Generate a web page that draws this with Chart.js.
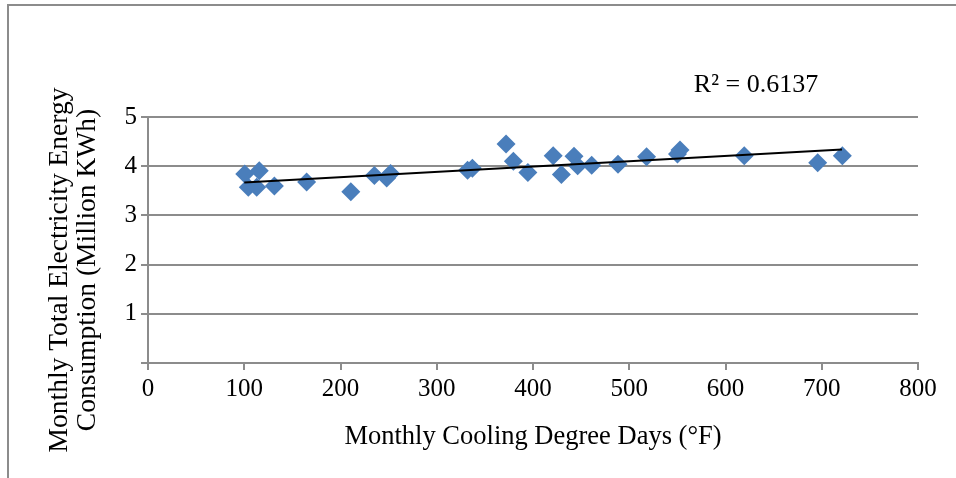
<!DOCTYPE html>
<html>
<head>
<meta charset="utf-8">
<script src="https://cdn.jsdelivr.net/npm/chart.js@4/dist/chart.umd.min.js"></script>
<style>
  html, body { margin: 0; padding: 0; background: #fff; }
  #wrap { width: 956px; height: 478px; }
</style>
</head>
<body>
<div id="wrap"><canvas id="chart" width="956" height="478"></canvas></div>
<script>
// monthly cooling degree days (°F)
const cdd = [100.5, 115.6, 104.2, 112.9, 131.3, 164.8, 210.7, 235.2, 248, 252,
             332, 337, 372, 379.6, 394.7, 421, 429.5, 442.6, 446.4, 461,
             488.3, 518, 550.1, 552.7, 619.5, 695.8, 721.4];
// monthly total electricity consumption (million kWh)
const kwh = [3.84, 3.91, 3.57, 3.57, 3.60, 3.68, 3.48, 3.81, 3.76, 3.85,
             3.92, 3.96, 4.45, 4.10, 3.87, 4.21, 3.83, 4.20, 4.01, 4.02,
             4.04, 4.19, 4.25, 4.33, 4.21, 4.07, 4.21];
// linear trendline ends
const trendX = [100, 721];
const trendY = [3.67, 4.34];
const r2Label = 'R² = 0.6137';

const xTicks = [0, 100, 200, 300, 400, 500, 600, 700, 800];
const yTicks = [0, 1, 2, 3, 4, 5];
const yTitle = ['Monthly Total Electricity Energy', 'Consumption (Million KWh)'];

const gray = '#8c8c8c';
const serif = "'Liberation Serif', 'Times New Roman', serif";

Chart.defaults.font.family = serif;
Chart.defaults.font.size = 25;
Chart.defaults.color = '#000';

// outer frame (top + left edge), rotated y title and the R² label
const framePlugin = {
    id: 'frame',
    beforeDraw(chart) {
        const ctx = chart.ctx;
        ctx.save();
        ctx.strokeStyle = gray;
        ctx.lineWidth = 2;
        ctx.beginPath();
        ctx.moveTo(956, 5);
        ctx.lineTo(8, 5);
        ctx.lineTo(8, 478);
        ctx.stroke();
        ctx.restore();
    },
    afterDraw(chart) {
        const ctx = chart.ctx;
        ctx.save();
        ctx.font = '26px ' + serif;
        ctx.fillStyle = '#000';
        ctx.textAlign = 'center';
        ctx.textBaseline = 'middle';
        ctx.fillText(r2Label, 756, 85);

        // y axis title sits a bit below the plot centre in the original
        ctx.font = '27.5px ' + serif;
        ctx.translate(60, 270);
        ctx.rotate(-Math.PI / 2);
        yTitle.forEach((line, i) => ctx.fillText(line, 0, i * 28));
        ctx.restore();
    }
};

let points = cdd.map((v, i) => ({ x: v, y: kwh[i] }));
let trend = trendX.map((v, i) => ({ x: v, y: trendY[i] }));

new Chart(document.getElementById('chart'), {
    type: 'scatter',
    data: {
        datasets: [{
            label: 'Consumption',
            data: points,
            pointStyle: 'rectRot',
            pointRadius: 9.5,
            pointHoverRadius: 9.5,
            backgroundColor: '#4a7ebb',
            borderColor: '#4a7ebb',
            borderWidth: 0,
            order: 2,
        }, {
            label: 'Linear',
            data: trend,
            showLine: true,
            pointRadius: 0,
            borderColor: '#000',
            borderWidth: 2,
            order: 1,
        }]
    },
    options: {
        responsive: false,
        animation: false,
        events: [],
        layout: {
            padding: { left: 0, right: 38, top: 117, bottom: 0 }
        },
        plugins: {
            legend: { display: false },
            tooltip: { enabled: false },
        },
        scales: {
            x: {
                type: 'linear',
                min: 0,
                max: 800,
                afterBuildTicks: (s) => { s.ticks = xTicks.map(v => ({ value: v })); },
                afterFit: (s) => { s.height = 115; },
                grid: {
                    drawOnChartArea: false,
                    drawTicks: true,
                    tickLength: 7,
                    color: gray,
                    lineWidth: 2,
                },
                border: { display: true, color: gray, width: 2 },
                ticks: { padding: 4, color: '#000', font: { size: 25 } },
                title: {
                    display: true,
                    text: 'Monthly Cooling Degree Days (°F)',
                    font: { size: 26.5, lineHeight: 1.2 },
                    padding: { top: 4, bottom: 25 },
                },
            },
            y: {
                type: 'linear',
                min: 0,
                max: 5,
                afterBuildTicks: (s) => { s.ticks = yTicks.map(v => ({ value: v })); },
                afterFit: (s) => { s.width = 148; },
                grid: {
                    drawOnChartArea: true,
                    drawTicks: true,
                    tickLength: 7,
                    color: gray,
                    lineWidth: 2,
                },
                border: { display: true, color: gray, width: 2 },
                ticks: {
                    padding: 4,
                    color: '#000',
                    font: { size: 25 },
                    callback: (v) => v === 0 ? '' : v,
                },
                title: { display: false },
            }
        }
    },
    plugins: [framePlugin]
});
</script>
</body>
</html>
